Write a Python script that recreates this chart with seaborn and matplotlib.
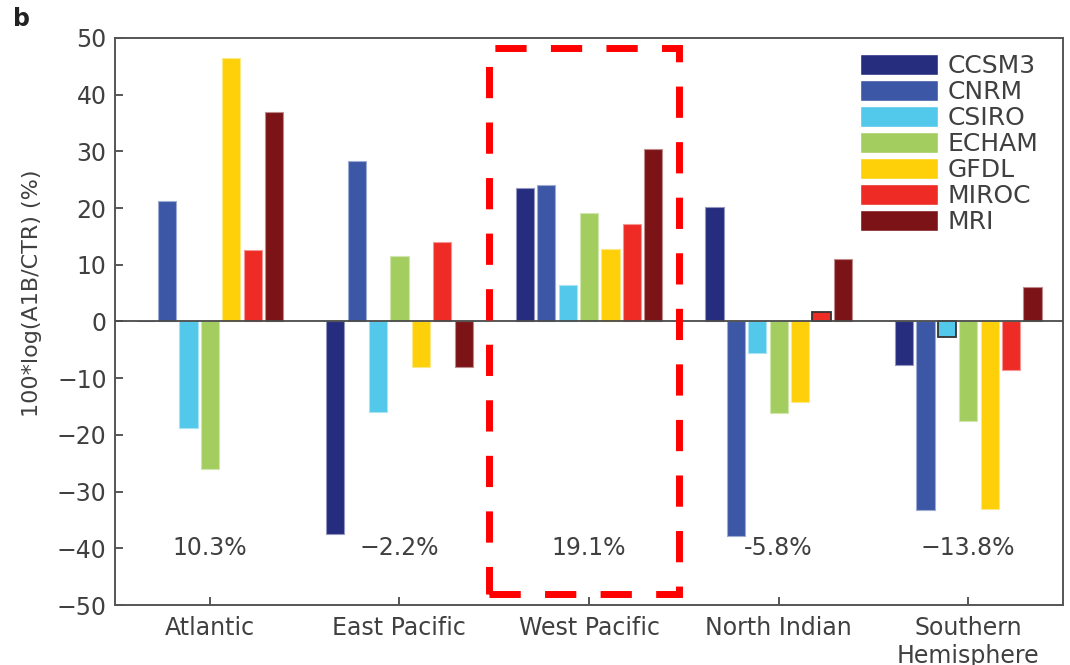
import numpy as np
import pandas as pd
import matplotlib
matplotlib.use("Agg")
import matplotlib.pyplot as plt
import matplotlib.colors as mcolors
from matplotlib.patches import Rectangle
import seaborn as sns

# Ocean basins and climate models
basins = ["Atlantic", "East Pacific", "West Pacific", "North Indian", "Southern\nHemisphere"]
models = ["CCSM3", "CNRM", "CSIRO", "ECHAM", "GFDL", "MIROC", "MRI"]

# 100*log(A1B/CTR) per model, one list per model (order follows basins)
ccsm3 = [0.0, -37.5, 23.6, 20.2, -7.7]
cnrm = [21.2, 28.3, 24.0, -37.8, -33.2]
csiro = [-18.8, -16.0, 6.4, -5.5, -2.8]
echam = [-26.0, 11.6, 19.2, -16.2, -17.6]
gfdl = [46.5, -8.0, 12.8, -14.2, -33.0]
miroc = [12.6, 14.0, 17.2, 1.7, -8.5]
mri = [37.0, -8.0, 30.5, 11.1, 6.1]

# Multi-model mean change written under each basin
mean_labels = ["10.3%", "\u22122.2%", "19.1%", "-5.8%", "\u221213.8%"]

colors = ["#262C7E", "#3C57A5", "#52C8EA", "#A3CD5F", "#FDD009", "#EE2B24", "#7C1417"]

series = [ccsm3, cnrm, csiro, echam, gfdl, miroc, mri]
df = pd.DataFrame(
    [(b, m, v) for m, vals in zip(models, series) for b, v in zip(basins, vals)],
    columns=["basin", "model", "value"],
)

sns.set_theme(style="white")
plt.rcParams["font.family"] = ["DejaVu Sans"]
text_color = "#404040"

fig = plt.figure(figsize=(10.7, 6.65), dpi=100)
ax = fig.add_axes([0.1075, 0.0902, 0.886, 0.8527])

sns.barplot(
    data=df, x="basin", y="value", hue="model", order=basins, hue_order=models,
    palette=colors, saturation=1, width=0.79, gap=0.15, errorbar=None,
    ax=ax, legend=True,
)

# light rim on every bar, dark outline on the two tiny bars
for cont, col in zip(ax.containers, colors):
    rim = tuple(0.5 * np.array(mcolors.to_rgb(col)) + 0.5)
    for p in cont:
        p.set_edgecolor(rim)
        p.set_linewidth(0.8)
for model, basin in [("MIROC", "North Indian"), ("CSIRO", "Southern\nHemisphere")]:
    p = ax.containers[models.index(model)][basins.index(basin)]
    p.set_edgecolor("#333333")
    p.set_linewidth(1.3)

ax.axhline(0, color="#4a4a4a", lw=1.3, zorder=3)

ax.set_xlim(-0.5, 4.5)
ax.set_ylim(-50, 50)
ax.set_yticks(np.arange(-50, 51, 10))
ax.set_yticklabels([("\u2212" + str(-t)) if t < 0 else str(t) for t in range(-50, 51, 10)])
ax.set_xlabel("")
ax.set_ylabel("100*log(A1B/CTR) (%)", fontsize=16, color=text_color)
ax.yaxis.set_label_coords(-0.077, 0.55)

ax.tick_params(axis="both", direction="in", length=6, width=1.3, color="#4a4a4a",
               labelsize=17, labelcolor=text_color, pad=6)
ax.tick_params(axis="x", pad=8, bottom=True)
ax.tick_params(axis="y", left=True)
for s in ax.spines.values():
    s.set_visible(True)
    s.set_color("#555555")
    s.set_linewidth(1.4)

for i, lab in enumerate(mean_labels):
    ax.text(i, -40, lab, ha="center", va="center", fontsize=17, color=text_color)

# dashed box around the West Pacific group
box = Rectangle((1.473, -48.1), 2.475 - 1.473, 48.3 + 48.1, fill=False,
                edgecolor="#FF0000", linewidth=5, linestyle=(0, (4.5, 3.5)),
                clip_on=False, zorder=5)
ax.add_patch(box)

leg = ax.legend(loc="upper left", bbox_to_anchor=(0.786, 0.972), frameon=False,
                fontsize=18, handlelength=3.1, handleheight=0.9, labelspacing=0.08,
                handletextpad=0.4, borderpad=0, borderaxespad=0)
for t in leg.get_texts():
    t.set_color(text_color)

fig.text(0.012, 0.972, "b", fontsize=17, fontweight="bold", color="#222222",
         ha="left", va="center")

fig.savefig("out.png", dpi=100)
